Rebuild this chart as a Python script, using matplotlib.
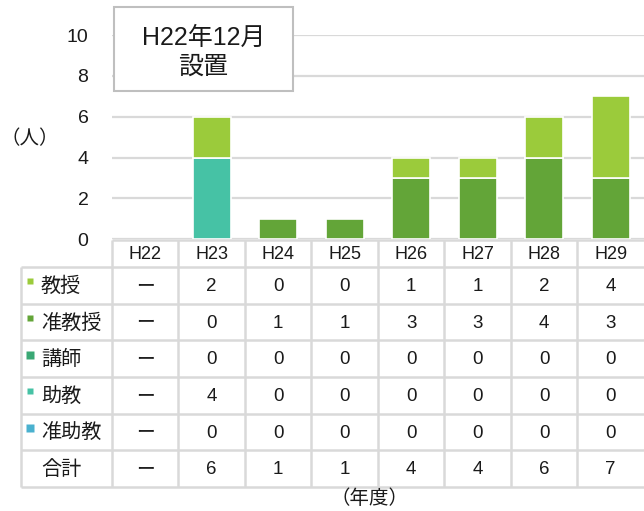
import matplotlib
matplotlib.use("Agg")
import matplotlib.pyplot as plt
from matplotlib.patches import Rectangle
import numpy as np

plt.rcParams['font.family'] = ['Liberation Sans', 'Noto Sans CJK JP', 'DejaVu Sans']

years = ['H22', 'H23', 'H24', 'H25', 'H26', 'H27', 'H28', 'H29']
ranks = ['教授', '准教授', '講師', '助教', '准助教']
# H22 has no staff yet (None -> shown as a dash)
kyoju = [None, 2, 0, 0, 1, 1, 2, 4]
jun_kyoju = [None, 0, 1, 1, 3, 3, 4, 3]
koshi = [None, 0, 0, 0, 0, 0, 0, 0]
jokyo = [None, 4, 0, 0, 0, 0, 0, 0]
jun_jokyo = [None, 0, 0, 0, 0, 0, 0, 0]
colors = ['#9bcb3b', '#63a538', '#3aa874', '#46c2a5', '#4ab1cf']
note = 'H22年12月\n設置'

series = [kyoju, jun_kyoju, koshi, jokyo, jun_jokyo]
W, H = 644, 511
grid_c = '#d9d9d9'

fig = plt.figure(figsize=(W / 100, H / 100), dpi=100)

# chart area in pixel terms: x 112..644, y(0)=239.3, y(10)=35
ax = fig.add_axes([112 / W, (H - 239.3) / H, 1 - 112 / W, (239.3 - 35) / H])
x = np.arange(len(years))
bottom = np.zeros(len(years))
# stack from the bottom: 准助教, 助教, 講師, 准教授, 教授
for vals, c in reversed(list(zip(series, colors))):
    v = np.array([0 if s is None else s for s in vals], dtype=float)
    m = v > 0
    ax.bar(x[m], v[m], bottom=bottom[m], width=0.57, color=c,
           edgecolor='white', linewidth=1.2, zorder=3)
    bottom += v

ax.set_xlim(-0.5, len(years) - 0.5)
ax.set_ylim(0, 10)
ax.set_yticks(range(0, 11, 2))
ax.set_xticks([])
ax.tick_params(axis='y', length=0, pad=17, labelsize=14, labelcolor='#1a1a1a')
for s in ax.spines.values():
    s.set_visible(False)
ax.grid(axis='y', color=grid_c, linewidth=1.6, zorder=0)
ax.set_axisbelow(True)

# overlay in pixel coordinates for the data table and the note box
ov = fig.add_axes([0, 0, 1, 1], zorder=5)
ov.set_xlim(0, W)
ov.set_ylim(H, 0)
ov.axis('off')
ov.patch.set_alpha(0)

col0 = 112
cw = (W - col0) / len(years)
row_top = 240
hdr_bot = 267
rh = (487 - hdr_bot) / 6

tc = '#1a1a1a'
# header row
ov.hlines(row_top, col0, W, color=grid_c, lw=1.8)
for i, yr in enumerate(years):
    ov.text(col0 + cw * (i + 0.5), (row_top + hdr_bot) / 2 + 1, yr,
            ha='center', va='center', fontsize=13, color=tc)

# body rows
totals = [None if all(s[i] is None for s in series)
          else sum(s[i] for s in series) for i in range(len(years))]
rows = list(zip(ranks, series, colors)) + [('合計', totals, None)]
sq_size = [6, 6, 8, 6, 8]
for r, (name, vals, c) in enumerate(rows):
    yc = hdr_bot + rh * (r + 0.5)
    if c is not None:
        ov.plot(30, yc - 4, marker='s', ms=sq_size[r] * 0.75, color=c,
                mec='none')
    ov.text(41, yc + 1, name, ha='left', va='center', fontsize=14.5, color=tc)
    for i, v in enumerate(vals):
        txt = 'ー' if v is None else str(v)
        ov.text(col0 + cw * (i + 0.5), yc + 1, txt, ha='center', va='center',
                fontsize=13.5, color=tc)

for k in range(7):
    ov.hlines(hdr_bot + rh * k, 21, W, color=grid_c, lw=1.8)
ov.vlines(21, hdr_bot, hdr_bot + rh * 6, color=grid_c, lw=1.8)
for i in range(len(years)):
    ov.vlines(col0 + cw * i, row_top, hdr_bot + rh * 6, color=grid_c, lw=1.8)

# axis captions
ov.text(30, 139, '（人）', ha='center', va='center', fontsize=14, color=tc)
ov.text(370, 499, '（年度）', ha='center', va='center', fontsize=14, color=tc)

# note box
ov.add_patch(Rectangle((114, 7), 179, 84, facecolor='white',
                       edgecolor='#bfbfbf', lw=1.5))
ov.text(203.5, 52, note, ha='center', va='center', fontsize=18,
        color=tc, linespacing=1.25)

fig.savefig('out.png', dpi=100)
